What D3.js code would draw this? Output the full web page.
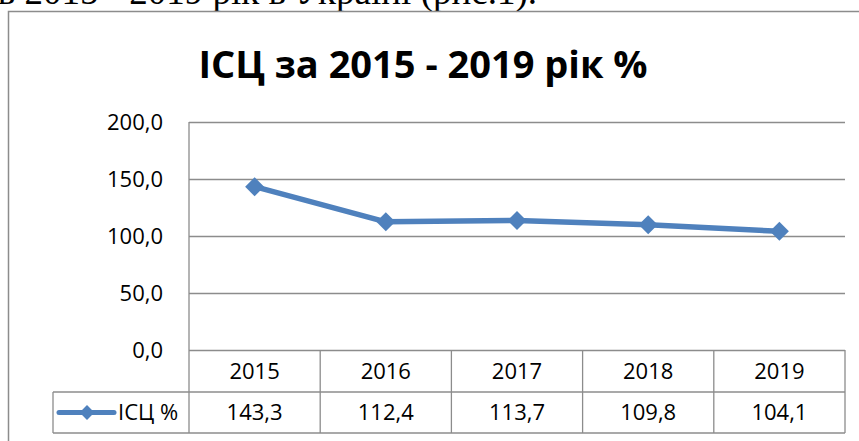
<!DOCTYPE html>
<html>
	<head>
		<meta charset="utf-8">
		<title>ІСЦ за 2015 - 2019 рік %</title>
		<style>
			body { margin: 0; background: #fff; }
			svg { display: block; }
			.grid line { stroke: #8c8c8c; stroke-width: 1.3px; }
			.grid path { display: none; }
			.ylab text { font-family: "Open Sans", sans-serif; font-size: 22px; fill: #000; }
			.tbl line { stroke: #8c8c8c; stroke-width: 1.3px; }
			.tbl text { font-family: "Open Sans", sans-serif; font-size: 22px; fill: #000; }
		</style>
		<script src="https://cdn.jsdelivr.net/npm/d3@7"></script>
	</head>
	<body>
		<svg id="myGraph" width="859" height="441"></svg>
		<script>
		// дані
		var years = ["2015", "2016", "2017", "2018", "2019"];
		var values = [143.3, 112.4, 113.7, 109.8, 104.1];
		var yTicks = [0, 50, 100, 150, 200];
		var seriesName = "ІСЦ %";
		var titleText = "ІСЦ за 2015 - 2019 рік %";
		var captionText = "в 2015 - 2019 рік в Україні (рис.1).";

		var ua = d3.formatLocale({decimal: ",", thousands: " ", grouping: [3], currency: ["", ""]});
		var fmt = ua.format(".1f");

		var svg = d3.select("#myGraph");
		var plotLeft = 189, plotRight = 845, plotTop = 122, plotBottom = 350;
		var row1 = 392, row2 = 433, legendLeft = 53;

		var x = d3.scaleBand().domain(years).range([plotLeft, plotRight]);
		var y = d3.scaleLinear().domain([0, 200]).range([plotBottom, plotTop]);

		// текст над діаграмою (обрізаний)
		svg.append("text")
			.attr("x", 537).attr("y", 4)
			.attr("text-anchor", "end")
			.style("font-family", "'Liberation Serif', serif")
			.style("font-size", "37px")
			.text(captionText);

		// рамка діаграми
		svg.append("path")
			.attr("d", "M8.5,441 V11.5 H859")
			.attr("fill", "none")
			.attr("stroke", "#8c8c8c")
			.attr("stroke-width", 1.5);

		// заголовок
		svg.append("text")
			.attr("x", 423).attr("y", 78)
			.attr("text-anchor", "middle")
			.style("font-family", "'Open Sans', sans-serif")
			.style("font-weight", "bold")
			.style("font-size", "38px")
			.text(titleText);

		// сітка
		svg.append("g")
			.attr("class", "grid")
			.attr("transform", "translate(" + plotLeft + ",0)")
			.call(d3.axisLeft(y).tickValues(yTicks).tickSize(-(plotRight - plotLeft)).tickFormat(""));

		// підписи осі Y
		svg.append("g")
			.attr("class", "ylab")
			.selectAll("text")
			.data(yTicks)
			.enter()
			.append("text")
			.attr("x", 163)
			.attr("y", function(d){ return y(d); })
			.attr("dy", "0.35em")
			.attr("text-anchor", "end")
			.text(function(d){ return fmt(d); });

		// таблиця даних
		var tbl = svg.append("g").attr("class", "tbl");
		tbl.append("line").attr("x1", plotLeft).attr("x2", plotLeft).attr("y1", plotTop).attr("y2", row2);
		tbl.append("line").attr("x1", legendLeft).attr("x2", plotRight).attr("y1", row1).attr("y2", row1);
		tbl.append("line").attr("x1", legendLeft).attr("x2", plotRight).attr("y1", row2).attr("y2", row2);
		tbl.append("line").attr("x1", legendLeft).attr("x2", legendLeft).attr("y1", row1).attr("y2", row2);
		tbl.selectAll("line.col")
			.data(years)
			.enter()
			.append("line")
			.attr("class", "col")
			.attr("x1", function(d){ return x(d) + x.bandwidth(); })
			.attr("x2", function(d){ return x(d) + x.bandwidth(); })
			.attr("y1", plotBottom).attr("y2", row2);

		tbl.selectAll("text.yr")
			.data(years)
			.enter()
			.append("text")
			.attr("class", "yr")
			.attr("x", function(d){ return x(d) + x.bandwidth() / 2; })
			.attr("y", (plotBottom + row1) / 2)
			.attr("dy", "0.35em")
			.attr("text-anchor", "middle")
			.text(function(d){ return d; });

		tbl.selectAll("text.val")
			.data(values)
			.enter()
			.append("text")
			.attr("class", "val")
			.attr("x", function(d, i){ return x(years[i]) + x.bandwidth() / 2; })
			.attr("y", (row1 + row2) / 2)
			.attr("dy", "0.35em")
			.attr("text-anchor", "middle")
			.text(function(d){ return fmt(d); });

		// легенда в таблиці
		var ly = (row1 + row2) / 2;
		tbl.append("line")
			.attr("x1", 59).attr("x2", 114).attr("y1", ly).attr("y2", ly)
			.style("stroke", "#4f81bd").style("stroke-width", "5px").style("stroke-linecap", "round");
		tbl.append("path")
			.attr("d", d3.symbol(d3.symbolDiamond2, 140)())
			.attr("transform", "translate(87," + ly + ")")
			.attr("fill", "#4f81bd");
		tbl.append("text")
			.attr("x", 118).attr("y", ly).attr("dy", "0.35em")
			.text(seriesName);

		// лінія ряду
		var line = d3.line()
			.x(function(d, i){ return x(years[i]) + x.bandwidth() / 2; })
			.y(function(d){ return y(d); });

		svg.append("path")
			.datum(values)
			.attr("d", line)
			.attr("fill", "none")
			.attr("stroke", "#4f81bd")
			.attr("stroke-width", 5.5)
			.attr("stroke-linejoin", "round");

		svg.selectAll("path.mark")
			.data(values)
			.enter()
			.append("path")
			.attr("class", "mark")
			.attr("d", d3.symbol(d3.symbolDiamond2, 230)())
			.attr("transform", function(d, i){
				return "translate(" + (x(years[i]) + x.bandwidth() / 2) + "," + y(d) + ")";
			})
			.attr("fill", "#4f81bd");
		</script>
	</body>
</html>
